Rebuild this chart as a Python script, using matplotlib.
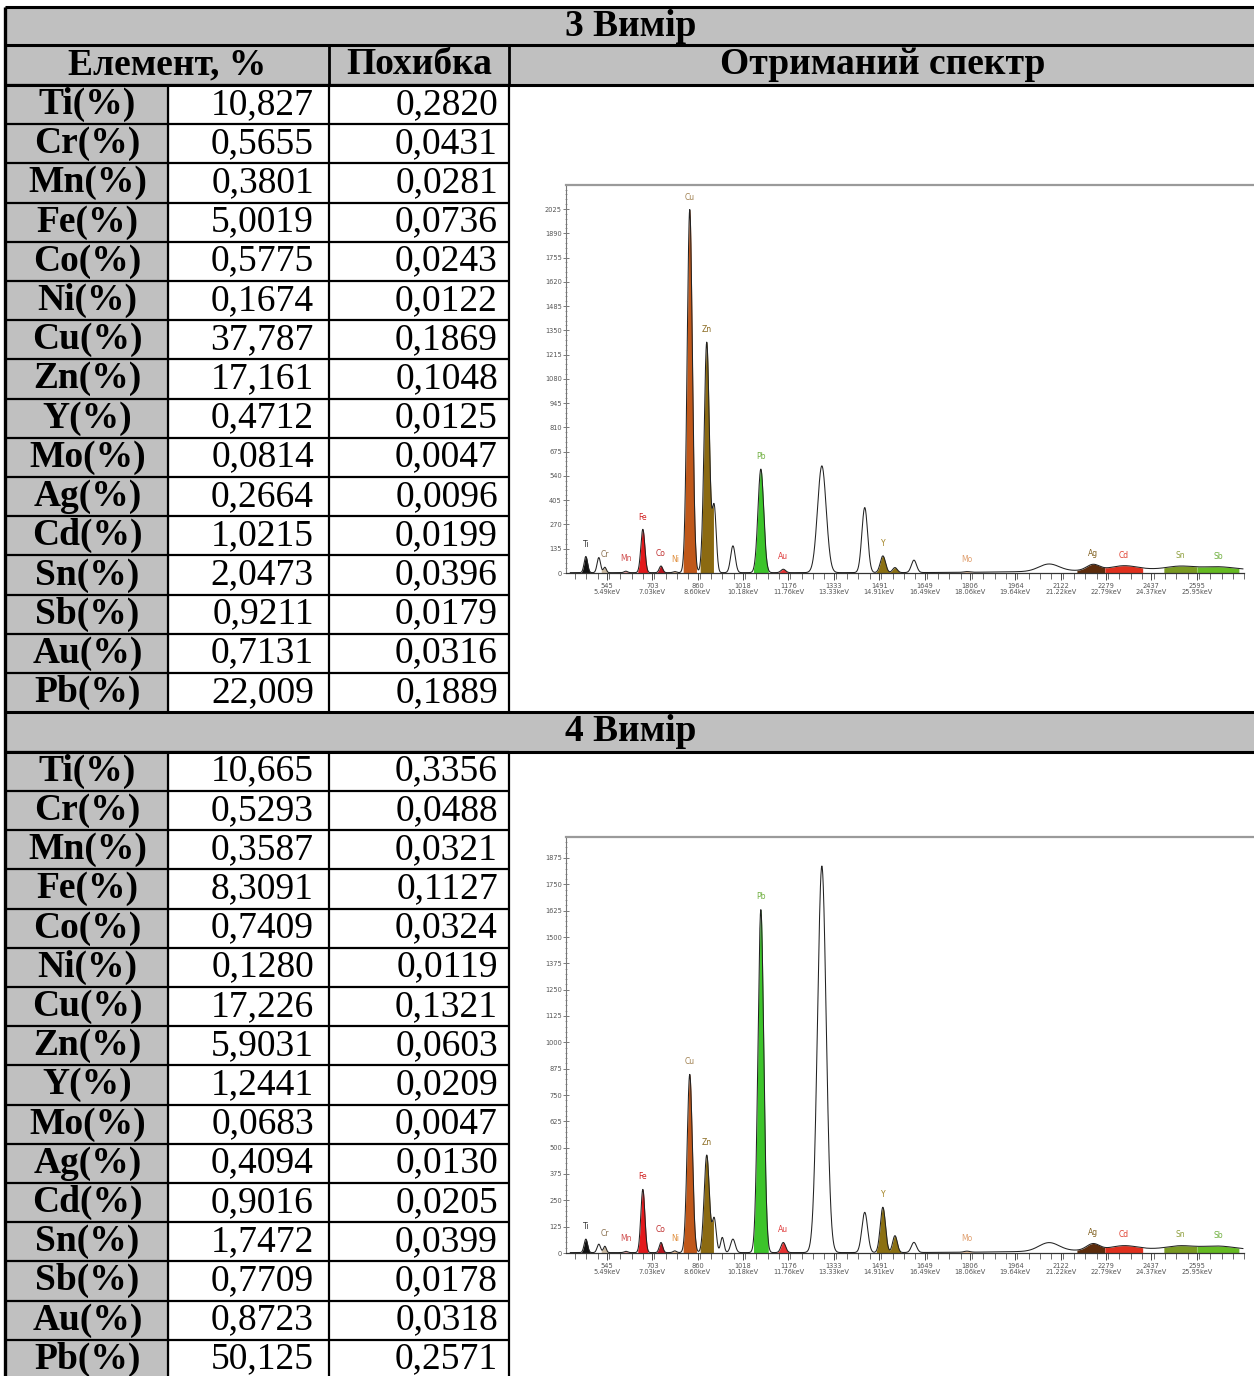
import numpy as np
import matplotlib.pyplot as plt
from matplotlib.patches import Rectangle
from matplotlib.ticker import FixedLocator, MultipleLocator, AutoMinorLocator

W, H = 1254, 1376

# table data
elements = ['Ti', 'Cr', 'Mn', 'Fe', 'Co', 'Ni', 'Cu', 'Zn',
            'Y', 'Mo', 'Ag', 'Cd', 'Sn', 'Sb', 'Au', 'Pb']
meas3_val = ['10,827', '0,5655', '0,3801', '5,0019', '0,5775', '0,1674', '37,787', '17,161',
             '0,4712', '0,0814', '0,2664', '1,0215', '2,0473', '0,9211', '0,7131', '22,009']
meas3_err = ['0,2820', '0,0431', '0,0281', '0,0736', '0,0243', '0,0122', '0,1869', '0,1048',
             '0,0125', '0,0047', '0,0096', '0,0199', '0,0396', '0,0179', '0,0316', '0,1889']
meas4_val = ['10,665', '0,5293', '0,3587', '8,3091', '0,7409', '0,1280', '17,226', '5,9031',
             '1,2441', '0,0683', '0,4094', '0,9016', '1,7472', '0,7709', '0,8723', '50,125']
meas4_err = ['0,3356', '0,0488', '0,0321', '0,1127', '0,0324', '0,0119', '0,1321', '0,0603',
             '0,0209', '0,0047', '0,0130', '0,0205', '0,0399', '0,0178', '0,0318', '0,2571']

# spectrum data (channels / counts)
xtick_ch = [545, 703, 860, 1018, 1176, 1333, 1491, 1649, 1806, 1964, 2122, 2279, 2437, 2595]
xtick_kev = ['5.49', '7.03', '8.60', '10.18', '11.76', '13.33', '14.91',
             '16.49', '18.06', '19.64', '21.22', '22.79', '24.37', '25.95']

peak_labels = ['Ti', 'Cr', 'Mn', 'Fe', 'Co', 'Ni', 'Cu', 'Zn', 'Pb', 'Au', 'Y', 'Y', 'Mo']
peak_centres = [472, 538, 611, 670, 733, 781, 833, 892, 1080, 1158, 1504, 1546, 1796]
peak_sigmas = [6, 5, 6, 7, 6, 6, 9, 9, 10, 8, 9, 8, 10]
peak_colors = ['#111111', '#c8b8a0', '#f0a0a0', '#e3191c', '#b8141e', '#f5c090', '#c0581a',
               '#8b6a12', '#3cc42a', '#e83232', '#8b7012', '#8b7012', '#f5c8a0']
label_colors = ['#333333', '#8a7050', '#d05050', '#d02020', '#c03030', '#e09040', '#a08050',
                '#8a6a20', '#70b040', '#e04040', '#a08020', None, '#e0a070']
spec3_heights = [90, 30, 8, 241, 37, 6, 2020, 1282, 576, 19, 93, 28, 4]
spec4_heights = [64, 30, 6, 300, 48, 8, 846, 463, 1628, 48, 215, 80, 5]

free_centres = [517, 918, 946, 983, 1292, 1441, 1612, 2081, 2550]
free_sigmas = [6, 7, 6, 8, 15, 10, 9, 35, 350]
spec3_free = [84, 362, 0, 149, 594, 362, 69, 40, 20]
spec4_free = [40, 160, 72, 64, 1835, 191, 48, 40, 18]

band_labels = ['Ag', 'Cd', 'Sn', 'Sb']
band_centres = [2234, 2341, 2537, 2668]
band_sigmas = [22, 45, 45, 55]
band_lo = [2178, 2275, 2480, 2595]
band_hi = [2275, 2407, 2595, 2741]
band_colors = ['#5c2c0c', '#e0301e', '#7a9a22', '#66bb22']
band_label_colors = ['#806020', '#e04030', '#90a040', '#70b040']
spec3_band = [32, 22, 16, 14]
spec4_band = [30, 18, 14, 14]

# pixel geometry of the table
X_L, X_C1, X_C2, X_C3, X_R = 5, 168, 329, 509, 1257
Y_TOP, Y_H2, Y_D1 = 7, 45, 85
ROW_H = 39.2
Y_S2 = Y_D1 + 16 * ROW_H
Y_D2 = Y_S2 + 39.5
GRAY = '#c0c0c0'
SERIF = 'Liberation Serif'
FS = 27

fig = plt.figure(figsize=(W / 100, H / 100), dpi=100)
ax = fig.add_axes([0, 0, 1, 1])
ax.set_xlim(0, W)
ax.set_ylim(H, 0)
ax.axis('off')


def hline(y, x0, x1, lw=2.0):
    ax.plot([x0, x1], [y, y], color='black', lw=lw, solid_capstyle='butt', zorder=3)


def vline(x, y0, y1, lw=2.0):
    ax.plot([x, x], [y0, y1], color='black', lw=lw, solid_capstyle='butt', zorder=3)


def section_header(y0, text):
    ax.add_patch(Rectangle((X_L, y0), X_R - X_L, 39, color=GRAY, zorder=1))
    ax.text((X_L + X_R) / 2, y0 + 19.5, text, ha='center', va='center', fontsize=FS,
            fontweight='bold', family=SERIF)
    hline(y0, X_L, X_R, 2.2)


def data_rows(y0, vals, errs):
    for i, el in enumerate(elements):
        y = y0 + i * ROW_H
        ax.add_patch(Rectangle((X_L, y), X_C1 - X_L, ROW_H, color=GRAY, zorder=1))
        yc = y + ROW_H / 2
        ax.text((X_L + X_C1) / 2 + 1, yc, f'{el}(%)', ha='center', va='center', fontsize=FS,
                fontweight='bold', family=SERIF)
        ax.text(X_C2 - 15, yc, vals[i], ha='right', va='center', fontsize=FS, family=SERIF)
        ax.text(X_C3 - 11, yc, errs[i], ha='right', va='center', fontsize=FS, family=SERIF)
        hline(y, X_L, X_C3, 1.6)
    y_end = y0 + len(elements) * ROW_H
    vline(X_C1, y0, y_end, 1.6)
    vline(X_C2, y0, y_end, 1.6)
    vline(X_C3, y0, y_end, 1.6)


# section 3
section_header(Y_TOP, '3 Вимір')
ax.add_patch(Rectangle((X_L, Y_H2), X_R - X_L, Y_D1 - Y_H2, color=GRAY, zorder=1))
hline(Y_H2, X_L, X_R, 2.2)
ax.text((X_L + X_C2) / 2, (Y_H2 + Y_D1) / 2, 'Елемент, %', ha='center', va='center',
        fontsize=FS, fontweight='bold', family=SERIF)
ax.text((X_C2 + X_C3) / 2, (Y_H2 + Y_D1) / 2, 'Похибка', ha='center', va='center',
        fontsize=FS, fontweight='bold', family=SERIF)
ax.text((X_C3 + X_R) / 2, (Y_H2 + Y_D1) / 2, 'Отриманий спектр', ha='center', va='center',
        fontsize=FS, fontweight='bold', family=SERIF)
vline(X_C2, Y_H2, Y_D1, 2.0)
vline(X_C3, Y_H2, Y_D1, 2.0)
data_rows(Y_D1, meas3_val, meas3_err)
hline(Y_D1, X_L, X_R, 2.2)

# section 4
section_header(Y_S2, '4 Вимір')
data_rows(Y_D2, meas4_val, meas4_err)
hline(Y_D2, X_L, X_R, 2.2)

vline(X_L, Y_TOP, H, 2.4)
vline(X_R, Y_TOP, H, 2.4)


def gauss(x, c, h, s):
    return h * np.exp(-0.5 * ((x - c) / s) ** 2)


PX_PER_CH = 0.2878
CH_LEFT = 403


def spectrum(px_top, px_zero, px_ref, ref_val, heights, free, bands, ymax_tick, step):
    left, right = 566, W
    ch_right = CH_LEFT + (right - left) / PX_PER_CH
    px_per_unit = (px_zero - px_ref) / ref_val
    top_val = (px_zero - px_top) / px_per_unit
    sax = fig.add_axes([left / W, 1 - px_zero / H, (right - left) / W, (px_zero - px_top) / H])
    sax.set_xlim(CH_LEFT, ch_right)
    sax.set_ylim(0, top_val)

    x = np.linspace(CH_LEFT + 15, 2755, 4000)
    total = np.full_like(x, 2.0)
    for c, h, s in zip(peak_centres, heights, peak_sigmas):
        total += gauss(x, c, h, s)
    for c, h, s in zip(free_centres, free, free_sigmas):
        total += gauss(x, c, h, s)
    for c, h, s in zip(band_centres, bands, band_sigmas):
        total += gauss(x, c, h, s)

    for c, h, s, col, lab, lcol in zip(peak_centres, heights, peak_sigmas,
                                       peak_colors, peak_labels, label_colors):
        mask = np.abs(x - c) <= 2.6 * s
        sax.fill_between(x, 0, total, where=mask, color=col, lw=0, zorder=2)
        if lcol is not None:
            ytop = total[np.argmin(np.abs(x - c))]
            sax.text(c, ytop + 0.02 * top_val, lab, ha='center', va='bottom', fontsize=5.5,
                     color=lcol, zorder=4)
    for lo, hi, col, lab, lcol, c in zip(band_lo, band_hi, band_colors, band_labels,
                                         band_label_colors, band_centres):
        mask = (x >= lo) & (x <= hi)
        sax.fill_between(x, 0, total, where=mask, color=col, lw=0, zorder=2)
        ytop = total[np.argmin(np.abs(x - c))]
        sax.text(c, ytop + 0.015 * top_val, lab, ha='center', va='bottom', fontsize=5.5,
                 color=lcol, zorder=4)
    sax.plot(x, total, color='#222222', lw=0.75, zorder=3)

    sax.yaxis.set_major_locator(MultipleLocator(step))
    sax.yaxis.set_minor_locator(AutoMinorLocator(5))
    sax.set_yticks([v for v in np.arange(0, ymax_tick + 1, step)])
    sax.tick_params(axis='y', which='major', direction='inout', length=4, width=0.6,
                    labelsize=4.8, labelcolor='#555555', pad=1, color='#666666')
    sax.tick_params(axis='y', which='minor', direction='inout', length=2, width=0.5,
                    color='#777777')
    sax.xaxis.set_major_locator(FixedLocator(xtick_ch))
    sax.set_xticklabels([f'{c}\n{k}keV' for c, k in zip(xtick_ch, xtick_kev)])
    sax.xaxis.set_minor_locator(MultipleLocator(157.7 / 4))
    sax.tick_params(axis='x', which='major', direction='out', length=5, width=0.7,
                    labelsize=4.8, labelcolor='#555555', pad=2, color='#444444')
    sax.tick_params(axis='x', which='minor', direction='out', length=4, width=0.6,
                    color='#555555')
    for lab in sax.get_xticklabels():
        lab.set_linespacing(1.0)
    sax.spines['right'].set_visible(False)
    sax.spines['top'].set_color('#9a9a9a')
    sax.spines['top'].set_linewidth(1.6)
    sax.spines['left'].set_color('#777777')
    sax.spines['left'].set_linewidth(0.8)
    sax.spines['bottom'].set_color('#333333')
    sax.spines['bottom'].set_linewidth(0.9)
    sax.spines['bottom'].set_bounds(CH_LEFT, 2760)
    sax.patch.set_alpha(0)


spectrum(185, 573, 209, 2025, spec3_heights, spec3_free, spec3_band, 2025, 135)
spectrum(837, 1253, 858, 1875, spec4_heights, spec4_free, spec4_band, 1875, 125)

fig.savefig('out.png', dpi=100)
